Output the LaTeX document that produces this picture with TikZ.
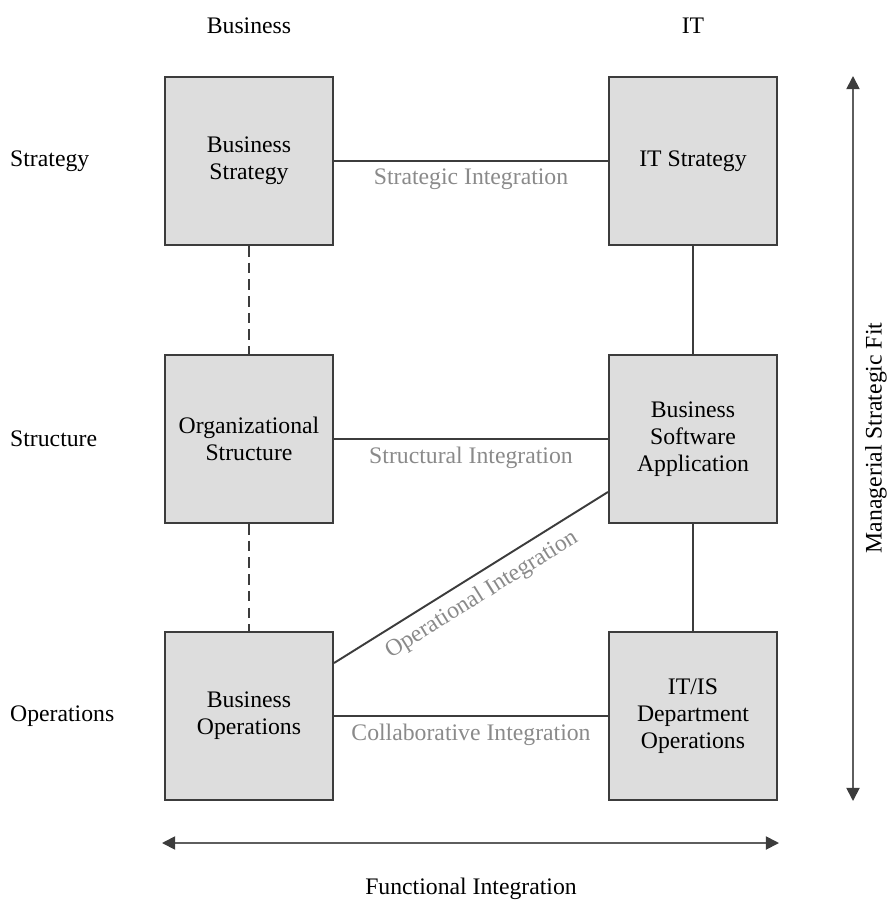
\documentclass[tikz,border=0pt]{standalone}
\usepackage{fontspec}
\setmainfont{Liberation Serif}
\usetikzlibrary{arrows.meta, positioning, calc}
\definecolor{boxgray}{HTML}{DDDDDD}
\definecolor{edgegray}{HTML}{3C3C3C}
\definecolor{labelgray}{HTML}{8A8A8A}
\definecolor{arrowgray}{HTML}{5E5E5E}

\tikzset{
  layerbox/.style={draw=edgegray, fill=boxgray, line width=1.2pt, minimum width=3.36cm, minimum height=3.36cm, inner sep=0pt, align=center, font=\fontsize{13.5}{15.3}\selectfont},
  link/.style={draw=edgegray, line width=1.1pt},
  linktext/.style={text=labelgray, font=\fontsize{13.5}{15.3}\selectfont, inner sep=4pt},
  axistext/.style={font=\fontsize{13.5}{15.3}\selectfont},
  fitarrow/.style={draw=arrowgray, line width=1pt, {Triangle[length=7.5pt,width=7.5pt,color=edgegray]}-{Triangle[length=7.5pt,width=7.5pt,color=edgegray]}}
}

\begin{document}
\begin{tikzpicture}[x=0.02cm, y=-0.02cm]
  \useasboundingbox (0,0) rectangle (886,906);

  % Encabezados de columnas y filas
  \node[axistext] (colbus) at (249,26) {Business};
  \node[axistext] (colit) at (693,26) {IT};
  \node[axistext, anchor=west] (rowstrat) at (4,161) {Strategy};
  \node[axistext, anchor=west] (rowstruct) at (4,439) {Structure};
  \node[axistext, anchor=west] (rowops) at (4,716) {Operations};

  % Cajas
  \node[layerbox] (bstrat) at (249,161) {Business\\Strategy};
  \node[layerbox] (itstrat) at (693,161) {IT Strategy};
  \node[layerbox] (orgstruct) at (249,439) {Organizational\\Structure};
  \node[layerbox] (bsapp) at (693,439) {Business\\Software\\Application};
  \node[layerbox] (bops) at (249,716) {Business\\Operations};
  \node[layerbox] (itops) at (693,716) {IT/IS\\Department\\Operations};

  % Integraciones horizontales
  \draw[link] (bstrat) -- node[linktext, below] {Strategic Integration} (itstrat);
  \draw[link] (orgstruct) -- node[linktext, below] {Structural Integration} (bsapp);
  \draw[link] (bops) -- node[linktext, below] {Collaborative Integration} (itops);
  \draw[link] ([yshift=1.06cm]bops.east) -- node[linktext, below, sloped, inner sep=5pt] {Operational Integration} ([yshift=-1.06cm]bsapp.west);

  % Enlaces verticales
  \draw[link, dash pattern=on 6pt off 3.5pt] (bstrat) -- (orgstruct);
  \draw[link, dash pattern=on 6pt off 3.5pt] (orgstruct) -- (bops);
  \draw[link] (itstrat) -- (bsapp);
  \draw[link] (bsapp) -- (itops);

  % Ejes
  \coordinate (fittop) at (853,76);
  \coordinate (fitbot) at (853,801);
  \draw[fitarrow] (fittop) -- (fitbot);
  \node[axistext, rotate=90] (fitlabel) at (876,438) {Managerial Strategic Fit};
  \coordinate (funleft) at (162,843);
  \coordinate (funright) at (779,843);
  \draw[fitarrow] (funleft) -- (funright);
  \node[axistext] (funlabel) at (471,889) {Functional Integration};
\end{tikzpicture}
\end{document}
